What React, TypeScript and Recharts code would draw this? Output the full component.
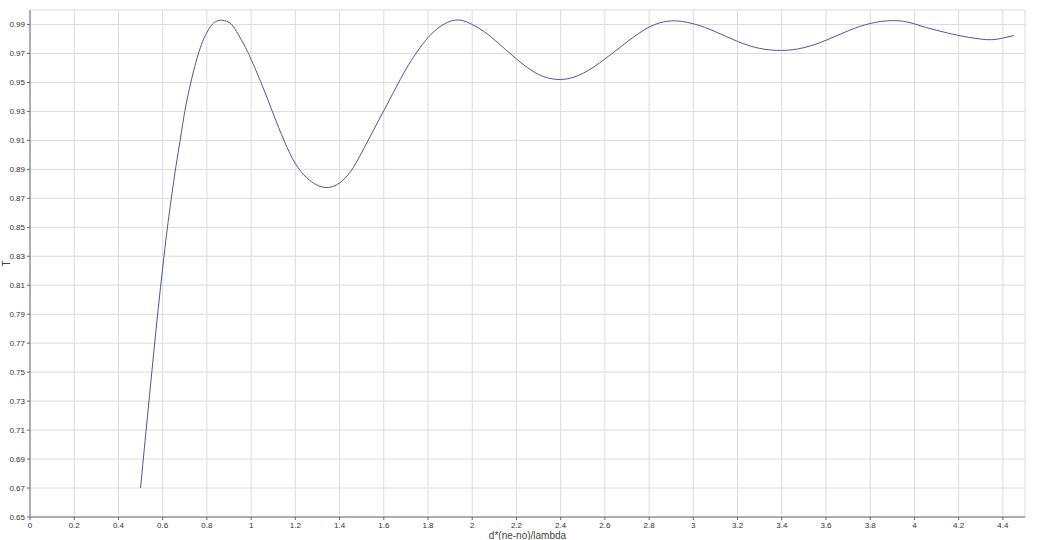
import React from 'react';
import { LineChart, Line, XAxis, YAxis, CartesianGrid } from 'recharts';

const xTicks = [0, 0.2, 0.4, 0.6, 0.8, 1, 1.2, 1.4, 1.6, 1.8, 2, 2.2, 2.4, 2.6, 2.8, 3, 3.2, 3.4, 3.6, 3.8, 4, 4.2, 4.4];
const yTicks = [0.65, 0.67, 0.69, 0.71, 0.73, 0.75, 0.77, 0.79, 0.81, 0.83, 0.85, 0.87, 0.89, 0.91, 0.93, 0.95, 0.97, 0.99];

const xValues = [
  0.5, 0.52, 0.54, 0.56, 0.58, 0.6, 0.62, 0.64, 0.66, 0.68, 0.7, 0.72, 0.74, 0.76, 0.78, 0.8, 0.82, 0.84, 0.86, 0.88, 0.9, 0.92, 0.95, 0.98,
  1.0, 1.05, 1.1, 1.15, 1.2, 1.25, 1.3, 1.35, 1.4, 1.45, 1.5, 1.55, 1.6, 1.65, 1.7, 1.75, 1.8, 1.85, 1.9, 1.95,
  2.0, 2.05, 2.1, 2.15, 2.2, 2.25, 2.3, 2.35, 2.4, 2.45, 2.5, 2.55, 2.6, 2.65, 2.7, 2.75, 2.8, 2.85, 2.9, 2.95,
  3.0, 3.05, 3.1, 3.15, 3.2, 3.25, 3.3, 3.35, 3.4, 3.45, 3.5, 3.55, 3.6, 3.65, 3.7, 3.75, 3.8, 3.85, 3.9, 3.95,
  4.0, 4.05, 4.1, 4.15, 4.2, 4.25, 4.3, 4.35, 4.4, 4.45,
];
const tValues = [
  0.67, 0.702, 0.733, 0.764, 0.794, 0.822, 0.848, 0.871, 0.892, 0.911, 0.93, 0.945, 0.958, 0.969, 0.978, 0.9845, 0.9893, 0.992, 0.993, 0.9926, 0.9915, 0.9885, 0.981, 0.9725,
  0.966, 0.948, 0.9284, 0.9095, 0.894, 0.8845, 0.879, 0.8775, 0.8806, 0.8885, 0.9015, 0.916, 0.9305, 0.945, 0.959, 0.971, 0.981, 0.988, 0.9922, 0.9929,
  0.99, 0.9855, 0.9795, 0.9728, 0.9662, 0.9602, 0.9555, 0.9528, 0.952, 0.9532, 0.9562, 0.9607, 0.9662, 0.972, 0.978, 0.9835, 0.9882, 0.9912, 0.9925, 0.9921,
  0.9905, 0.9881, 0.985, 0.9816, 0.9783, 0.9755, 0.9735, 0.9724, 0.9721, 0.9726, 0.974, 0.9762, 0.9791, 0.9823, 0.9856, 0.9885, 0.9907, 0.9921, 0.9927, 0.9922,
  0.9904, 0.988, 0.986, 0.9841, 0.9824, 0.981, 0.9799, 0.9795, 0.9806, 0.9824,
];

const data = xValues.map((x, i) => ({ x, t: tValues[i] }));

const font = 'Liberation Sans, Arial, sans-serif';
const tickStyle = { fontSize: 8, fill: '#333', fontFamily: font };

const YLabel = (props: any) => {
  const vb = props.viewBox || { x: 0, y: 0, height: 0 };
  const cx = 6;
  const cy = vb.y + vb.height / 2;
  return (
    <text x={cx} y={cy} transform={`rotate(-90, ${cx}, ${cy})`} textAnchor="middle" dominantBaseline="central" fontSize={10} fill="#444" fontFamily={font}>
      T
    </text>
  );
};

export default function App() {
  return (
    <div style={{ position: 'absolute', left: 0, top: 0, background: '#fff' }}>
      <LineChart width={1037} height={540} data={data} margin={{ top: 10, right: 12, bottom: 0, left: 0 }}>
        <CartesianGrid stroke="#dcdcdc" strokeWidth={1} />
        <XAxis
          type="number"
          dataKey="x"
          domain={[0, 4.5]}
          ticks={xTicks}
          height={23}
          tickSize={3}
          interval={0}
          axisLine={{ stroke: '#999', strokeWidth: 1.5 }}
          tickLine={{ stroke: '#666' }}
          tick={tickStyle}
          label={{ value: 'd*(ne-no)/lambda', position: 'insideBottom', offset: 1, fontSize: 10, fill: '#444', fontFamily: font }}
        />
        <YAxis
          type="number"
          domain={[0.65, 1.0]}
          ticks={yTicks}
          width={30}
          tickSize={3}
          interval={0}
          allowDataOverflow
          axisLine={{ stroke: '#999', strokeWidth: 1.5 }}
          tickLine={{ stroke: '#666' }}
          tick={tickStyle}
          label={<YLabel />}
        />
        <Line type="natural" dataKey="t" stroke="#5252a8" strokeWidth={1} dot={false} isAnimationActive={false} />
      </LineChart>
    </div>
  );
}
